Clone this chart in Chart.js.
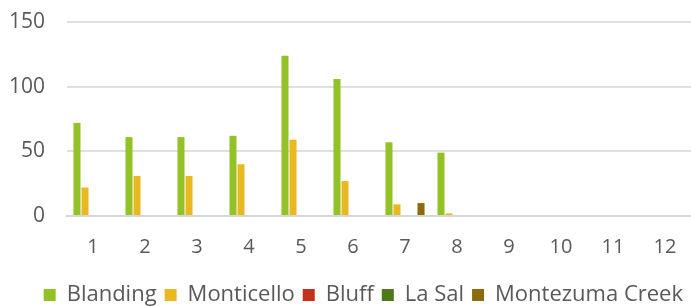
<!DOCTYPE html>
<html>
<head>
<meta charset="utf-8">
<script src="https://cdn.jsdelivr.net/npm/chart.js@4"></script>
<style>
    html, body { margin: 0; padding: 0; background: #fff; }
    #wrap { width: 691px; height: 306px; position: relative; }
</style>
</head>
<body>
<div id="wrap"><canvas id="chart"></canvas></div>
<script>
// ==========================================
// DATA
// ==========================================
const months = ['1', '2', '3', '4', '5', '6', '7', '8', '9', '10', '11', '12'];

const blanding       = [72, 61, 61, 62, 124, 106, 57, 49, 0, 0, 0, 0];
const monticello     = [22, 31, 31, 40, 59, 27, 9, 2, 0, 0, 0, 0];
const bluff          = [0, 0, 0, 0, 0, 0, 0, 0, 0, 0, 0, 0];
const laSal          = [0, 0, 0, 0, 0, 0, 0, 0, 0, 0, 0, 0];
const montezumaCreek = [0, 0, 0, 0, 0, 0, 10, 0, 0, 0, 0, 0];

const yTicks = [0, 50, 100, 150];

const seriesColors = {
    'Blanding': '#92C225',
    'Monticello': '#E8B921',
    'Bluff': '#C3301B',
    'La Sal': '#4F7818',
    'Montezuma Creek': '#8C6B0E'
};

// ==========================================
// CHART
// ==========================================
function makeDataset(label, data) {
    return {
        label: label,
        data: data,
        backgroundColor: seriesColors[label],
        borderWidth: 0,
        categoryPercentage: 0.77,
        barPercentage: 0.88
    };
}

const ctx = document.getElementById('chart').getContext('2d');

new Chart(ctx, {
    type: 'bar',
    data: {
        labels: months,
        datasets: [
            makeDataset('Blanding', blanding),
            makeDataset('Monticello', monticello),
            makeDataset('Bluff', bluff),
            makeDataset('La Sal', laSal),
            makeDataset('Montezuma Creek', montezumaCreek)
        ]
    },
    options: {
        responsive: true,
        maintainAspectRatio: false,
        animation: false,
        layout: {
            padding: { top: 22, right: 0, bottom: -10, left: 4 }
        },
        scales: {
            x: {
                afterFit: axis => {
                    // leave room under the labels so the legend sits lower
                    axis.height = 60;
                    axis.paddingLeft = 0;
                    axis.paddingRight = 0;
                },
                grid: { display: false, drawTicks: false },
                border: { color: '#d6d6d6', width: 2 },
                ticks: {
                    color: '#595959',
                    padding: 19,
                    font: { family: 'Open Sans', size: 20 }
                }
            },
            y: {
                min: 0,
                max: 150,
                afterBuildTicks: axis => {
                    axis.ticks = yTicks.map(v => ({ value: v }));
                },
                afterFit: axis => {
                    // keep label spacing but stop it pushing the plot down
                    axis.width = 63;
                    axis.paddingTop = 0;
                    axis.paddingBottom = 0;
                },
                grid: {
                    color: '#e0e0e0',
                    lineWidth: 2,
                    drawTicks: false
                },
                border: { display: false },
                ticks: {
                    color: '#595959',
                    padding: 22,
                    font: { family: 'Open Sans', size: 21 }
                }
            }
        },
        plugins: {
            legend: {
                position: 'bottom',
                align: 'end',
                labels: {
                    boxWidth: 12,
                    boxHeight: 12,
                    padding: 8,
                    color: '#595959',
                    font: { family: 'Open Sans', size: 22 }
                }
            },
            tooltip: { enabled: false }
        }
    }
});
</script>
</body>
</html>
